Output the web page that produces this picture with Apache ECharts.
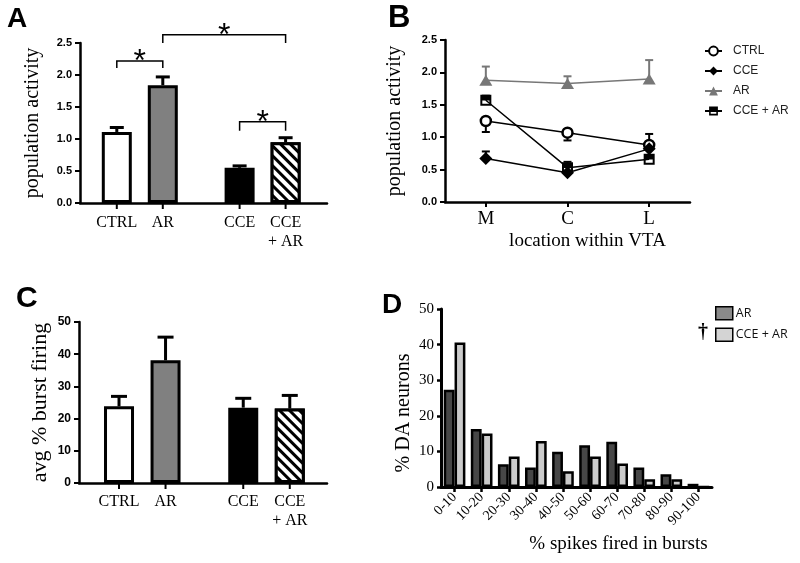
<!DOCTYPE html>
<html><head><meta charset="utf-8">
<script src="https://cdn.jsdelivr.net/npm/echarts@6/dist/echarts.min.js"></script>
<style>html,body{margin:0;padding:0;background:#fff}#c{width:800px;height:563px}</style>
</head><body><div id="c"></div>
<script>
// ---------- Panel A: population activity ----------
const groupsA = ['CTRL', 'AR', 'CCE', 'CCE\n+ AR'];
const activityA = [1.11, 1.84, 0.55, 0.95];
const activityAErr = [1.18, 1.97, 0.58, 1.02];
// significance brackets: [from group, to group, bracket level, tip level]
const sigFromA = [0, 1, 2];
const sigToA = [1, 3, 3];
const sigLevelA = [2.22, 2.63, 1.27];
const sigTipA = [2.11, 2.50, 1.13];
const sigMarkA = ['*', '*', '*'];

// ---------- Panel B: location within VTA ----------
const locationsB = ['M', 'C', 'L'];
const namesB = ['CTRL', 'CCE', 'AR', 'CCE + AR'];
const ctrlB = [1.25, 1.07, 0.88];
const ctrlBErr = [1.08, 0.95, 1.05];
const cceB = [0.67, 0.45, 0.82];
const cceBErr = [0.78, 0.45, 0.82];
const arB = [1.88, 1.83, 1.90];
const arBErr = [2.09, 1.94, 2.19];
const cceArB = [1.57, 0.53, 0.66];
const cceArBErr = [1.64, 0.62, 0.66];

// ---------- Panel C: avg % burst firing ----------
const groupsC = ['CTRL', 'AR', 'CCE', 'CCE\n+ AR'];
const burstC = [23.8, 38.1, 23.4, 23.1];
const burstCErr = [26.9, 45.3, 26.3, 27.2];

// ---------- Panel D: distribution ----------
const binsD = ['0-10','10-20','20-30','30-40','40-50','50-60','60-70','70-80','80-90','90-100'];
const arD = [27.3, 16.3, 6.4, 5.5, 9.9, 11.7, 12.7, 5.5, 3.6, 0.9];
const cceArD = [40.6, 15.0, 8.6, 12.9, 4.4, 8.6, 6.6, 2.2, 2.2, 0];

const SERIF = '"Liberation Serif", "Times New Roman", serif';
const SANS = '"Liberation Sans", Arial, sans-serif';
const GAP = 0.67;
const posOf = (i) => i + (i >= 2 ? GAP : 0);

const chart = echarts.init(document.getElementById('c'));

function axisLineStyle(w) { return { show: true, onZero: false, lineStyle: { color: '#000', width: w } }; }

function errRender(capHalf, color, lw) {
  return function (params, api) {
    const x = api.value(0), v = api.value(1), e = api.value(2);
    if (e === v) return { type: 'group', children: [] };
    const p0 = api.coord([x, v]), p1 = api.coord([x, e]);
    return { type: 'group', children: [
      { type: 'line', shape: { x1: p0[0], y1: p0[1], x2: p1[0], y2: p1[1] }, style: { stroke: color, lineWidth: lw } },
      { type: 'line', shape: { x1: p1[0] - capHalf, y1: p1[1], x2: p1[0] + capHalf, y2: p1[1] }, style: { stroke: color, lineWidth: lw } }
    ]};
  };
}
function catLabelRender(labels, off) {
  return function (params, api) {
    const p = api.coord([api.value(0), api.value(1)]);
    return { type: 'group', children: [
      { type: 'line', shape: { x1: p[0], y1: p[1], x2: p[0], y2: p[1] + 6 }, style: { stroke: '#000', lineWidth: 2 } },
      { type: 'text', x: p[0], y: p[1] + off, style: { text: labels[params.dataIndex], fontFamily: SERIF, fontSize: 16, fill: '#000', align: 'center', verticalAlign: 'top', textAlign: 'center', textVerticalAlign: 'top', lineHeight: 19 } }
    ]};
  };
}
function bracketRender(params, api) {
  const a = api.coord([api.value(0), api.value(2)]);
  const b = api.coord([api.value(1), api.value(2)]);
  const t = api.coord([api.value(0), api.value(3)]);
  return { type: 'group', children: [
    { type: 'polyline', shape: { points: [[a[0], t[1]], [a[0], a[1]], [b[0], a[1]], [b[0], t[1]]] }, style: { stroke: '#000', lineWidth: 1.5, fill: null } },
    { type: 'text', x: (a[0] + b[0]) / 2, y: a[1] + 1, style: { text: sigMarkA[params.dataIndex], fontFamily: SANS, fontSize: 32, fill: '#000', align: 'center', verticalAlign: 'middle', textAlign: 'center', textVerticalAlign: 'middle' } }
  ]};
}

const fillsAC = ['#ffffff', '#808080', '#000000', '#ffffff'];
const hatch = { symbol: 'rect', symbolSize: 1, dashArrayX: [1, 0], dashArrayY: [3, 3.6], rotation: Math.PI / 4, color: '#000', backgroundColor: '#fff' };
function barItem(i) {
  const s = { color: fillsAC[i], borderColor: '#000', borderWidth: 3 };
  if (i === 3) s.decal = hatch;
  return s;
}

const yTickBold = (size, fmt) => ({ show: true, fontFamily: SANS, fontWeight: 'bold', fontSize: size, color: '#000', margin: 8, formatter: fmt });

const option = {
  animation: false,
  backgroundColor: '#fff',
  grid: [
    { left: 80, top: 43, width: 247, height: 160, outerBoundsMode: 'none', containLabel: false },
    { left: 445, top: 40, width: 245, height: 162, outerBoundsMode: 'none', containLabel: false },
    { left: 79, top: 322, width: 248, height: 161, outerBoundsMode: 'none', containLabel: false },
    { left: 441, top: 309, width: 271, height: 178, outerBoundsMode: 'none', containLabel: false }
  ],
  xAxis: [
    { gridIndex: 0, type: 'value', min: -0.8, max: 4.57, axisLine: axisLineStyle(2.5), axisTick: { show: false }, axisLabel: { show: false }, splitLine: { show: false } },
    { gridIndex: 1, type: 'category', data: locationsB, boundaryGap: true, axisLine: axisLineStyle(2.5),
      axisTick: { show: true, alignWithLabel: true, length: 5, lineStyle: { color: '#000', width: 2 } },
      axisLabel: { fontFamily: SERIF, fontSize: 19, color: '#000', margin: 8 },
      name: 'location within VTA', nameLocation: 'middle', nameGap: 30, nameMoveOverlap: false,
      nameTextStyle: { fontFamily: SERIF, fontSize: 19, color: '#000', padding: [0, 0, 0, 40] } },
    { gridIndex: 2, type: 'value', min: -0.86, max: 4.47, axisLine: axisLineStyle(2.5), axisTick: { show: false }, axisLabel: { show: false }, splitLine: { show: false } },
    { gridIndex: 3, type: 'category', data: binsD, boundaryGap: true, axisLine: axisLineStyle(3),
      axisTick: { show: true, alignWithLabel: true, length: 5, lineStyle: { color: '#000', width: 2.5 } },
      axisLabel: { fontFamily: SERIF, fontSize: 14, color: '#000', rotate: 45, margin: 8, interval: 0 },
      name: '% spikes fired in bursts', nameLocation: 'middle', nameGap: 48, nameMoveOverlap: false,
      nameTextStyle: { fontFamily: SERIF, fontSize: 19, color: '#000', padding: [0, 0, 0, 84] } }
  ],
  yAxis: [
    { gridIndex: 0, type: 'value', min: 0, max: 2.5, interval: 0.5, axisLine: axisLineStyle(2.5),
      axisTick: { show: true, length: 5, lineStyle: { color: '#000', width: 2 } }, splitLine: { show: false },
      axisLabel: yTickBold(11, v => v.toFixed(1)),
      name: 'population activity', nameLocation: 'middle', nameGap: 37, nameMoveOverlap: false,
      nameTextStyle: { fontFamily: SERIF, fontSize: 20, color: '#000' } },
    { gridIndex: 1, type: 'value', min: 0, max: 2.5, interval: 0.5, axisLine: axisLineStyle(2.5),
      axisTick: { show: true, length: 5, lineStyle: { color: '#000', width: 2 } }, splitLine: { show: false },
      axisLabel: yTickBold(11, v => v.toFixed(1)),
      name: 'population activity', nameLocation: 'middle', nameGap: 40, nameMoveOverlap: false,
      nameTextStyle: { fontFamily: SERIF, fontSize: 20, color: '#000' } },
    { gridIndex: 2, type: 'value', min: 0, max: 50, interval: 10, axisLine: axisLineStyle(2.5),
      axisTick: { show: true, length: 5, lineStyle: { color: '#000', width: 2 } }, splitLine: { show: false },
      axisLabel: yTickBold(12),
      name: 'avg % burst firing', nameLocation: 'middle', nameGap: 28, nameMoveOverlap: false,
      nameTextStyle: { fontFamily: SERIF, fontSize: 22, color: '#000' } },
    { gridIndex: 3, type: 'value', min: 0, max: 50, interval: 10, axisLine: axisLineStyle(3),
      axisTick: { show: true, length: 4, lineStyle: { color: '#000', width: 2.5 } }, splitLine: { show: false },
      axisLabel: { fontFamily: SERIF, fontSize: 15, color: '#000', margin: 7 },
      name: '% DA neurons', nameLocation: 'middle', nameGap: 27, nameMoveOverlap: false,
      nameTextStyle: { fontFamily: SERIF, fontSize: 20, color: '#000', padding: [0, 30, 0, 0] } }
  ],
  legend: [
    { data: namesB, orient: 'vertical', left: 704, top: 45, padding: 0, itemWidth: 17, itemHeight: 11, itemGap: 8, selectedMode: false,
      textStyle: { fontFamily: SANS, fontSize: 12, color: '#222', padding: [0, 0, 0, 6] } },
    { data: [{ name: 'D:AR', itemStyle: { color: '#8a8a8a' } }, { name: 'D:CCE + AR', itemStyle: { color: '#d4d4d4' } }],
      formatter: n => n.slice(2), icon: 'rect', orient: 'vertical', left: 715, top: 306, padding: 0, itemWidth: 17, itemHeight: 13, itemGap: 7, selectedMode: false,
      itemStyle: { borderColor: '#000', borderWidth: 1.5 },
      textStyle: { fontFamily: '"Open Sans", "Liberation Sans", sans-serif', fontSize: 12.5, color: '#111', padding: [0, 0, 0, -2] } }
  ],
  graphic: [
    { type: 'text', left: 7, top: 5, style: { text: 'A', fontFamily: SANS, fontWeight: 'bold', fontSize: 28, fill: '#000' } },
    { type: 'text', left: 388, top: 3, style: { text: 'B', fontFamily: SANS, fontWeight: 'bold', fontSize: 31, fill: '#000' } },
    { type: 'text', left: 16, top: 284, style: { text: 'C', fontFamily: SANS, fontWeight: 'bold', fontSize: 30, fill: '#000' } },
    { type: 'text', left: 382, top: 291, style: { text: 'D', fontFamily: SANS, fontWeight: 'bold', fontSize: 28, fill: '#000' } },
    { type: 'text', left: 698, top: 323, style: { text: '\u2020', fontFamily: SERIF, fontWeight: 'bold', fontSize: 20, fill: '#000' } }
  ],
  series: [
    // Panel A
    { type: 'custom', name: 'A-err', xAxisIndex: 0, yAxisIndex: 0, z: 1, clip: false, encode: { x: 0, y: [1, 2] },
      renderItem: errRender(7, '#000', 3), data: activityA.map((v, i) => [posOf(i), v, activityAErr[i]]) },
    { type: 'bar', name: 'A-bars', xAxisIndex: 0, yAxisIndex: 0, z: 3, barWidth: 30,
      data: activityA.map((v, i) => ({ value: [posOf(i), v], itemStyle: barItem(i) })) },
    { type: 'custom', name: 'A-labels', xAxisIndex: 0, yAxisIndex: 0, z: 4, clip: false, encode: { x: 0, y: 1 },
      renderItem: catLabelRender(groupsA, 10), data: groupsA.map((g, i) => [posOf(i), 0]) },
    { type: 'custom', name: 'A-sig', xAxisIndex: 0, yAxisIndex: 0, z: 4, clip: false, encode: { x: [0, 1], y: [2, 3] },
      renderItem: bracketRender, data: sigFromA.map((f, i) => [posOf(f), posOf(sigToA[i]), sigLevelA[i], sigTipA[i]]) },
    // Panel B
    { type: 'line', name: 'CTRL', xAxisIndex: 1, yAxisIndex: 1, data: ctrlB, symbol: 'circle', symbolSize: 10, z: 5,
      itemStyle: { color: '#fff', borderColor: '#000', borderWidth: 2.5 }, lineStyle: { color: '#000', width: 1.5 } },
    { type: 'line', name: 'CCE', xAxisIndex: 1, yAxisIndex: 1, data: cceB, symbol: 'diamond', symbolSize: 13, z: 5,
      itemStyle: { color: '#000' }, lineStyle: { color: '#000', width: 1.5 } },
    { type: 'line', name: 'AR', xAxisIndex: 1, yAxisIndex: 1, data: arB, symbol: 'triangle', symbolSize: [13, 11], z: 5,
      itemStyle: { color: '#777' }, lineStyle: { color: '#777', width: 1.5 } },
    { type: 'line', name: 'CCE + AR', xAxisIndex: 1, yAxisIndex: 1, data: cceArB, z: 5,
      symbol: 'path://M0,0L10,0L10,10L0,10Z M1.8,5.2L1.8,8.2L8.2,8.2L8.2,5.2Z', symbolSize: 11,
      itemStyle: { color: '#000' }, lineStyle: { color: '#000', width: 1.5 } },
    { type: 'custom', name: 'B-err-ctrl', xAxisIndex: 1, yAxisIndex: 1, z: 4, encode: { x: 0, y: [1, 2] },
      renderItem: errRender(4, '#000', 2), data: ctrlB.map((v, i) => [i, v, ctrlBErr[i]]) },
    { type: 'custom', name: 'B-err-cce', xAxisIndex: 1, yAxisIndex: 1, z: 4, encode: { x: 0, y: [1, 2] },
      renderItem: errRender(4, '#000', 2), data: cceB.map((v, i) => [i, v, cceBErr[i]]) },
    { type: 'custom', name: 'B-err-ar', xAxisIndex: 1, yAxisIndex: 1, z: 4, encode: { x: 0, y: [1, 2] },
      renderItem: errRender(4, '#777', 2), data: arB.map((v, i) => [i, v, arBErr[i]]) },
    { type: 'custom', name: 'B-err-cceAr', xAxisIndex: 1, yAxisIndex: 1, z: 4, encode: { x: 0, y: [1, 2] },
      renderItem: errRender(4, '#000', 2), data: cceArB.map((v, i) => [i, v, cceArBErr[i]]) },
    // Panel C
    { type: 'custom', name: 'C-err', xAxisIndex: 2, yAxisIndex: 2, z: 1, clip: false, encode: { x: 0, y: [1, 2] },
      renderItem: errRender(8, '#000', 3), data: burstC.map((v, i) => [posOf(i), v, burstCErr[i]]) },
    { type: 'bar', name: 'C-bars', xAxisIndex: 2, yAxisIndex: 2, z: 3, barWidth: 30,
      data: burstC.map((v, i) => ({ value: [posOf(i), v], itemStyle: barItem(i) })) },
    { type: 'custom', name: 'C-labels', xAxisIndex: 2, yAxisIndex: 2, z: 4, clip: false, encode: { x: 0, y: 1 },
      renderItem: catLabelRender(groupsC, 9), data: groupsC.map((g, i) => [posOf(i), 0]) },
    // Panel D
    { type: 'bar', name: 'D:AR', xAxisIndex: 3, yAxisIndex: 3, data: arD, barGap: '0%', barCategoryGap: '20%',
      itemStyle: { color: '#474747', borderColor: '#000', borderWidth: 2.5 } },
    { type: 'bar', name: 'D:CCE + AR', xAxisIndex: 3, yAxisIndex: 3, data: cceArD, barGap: '0%', barCategoryGap: '20%',
      itemStyle: { color: '#cbcbcb', borderColor: '#000', borderWidth: 2.5 } }
  ]
};
chart.setOption(option);
</script></body></html>
